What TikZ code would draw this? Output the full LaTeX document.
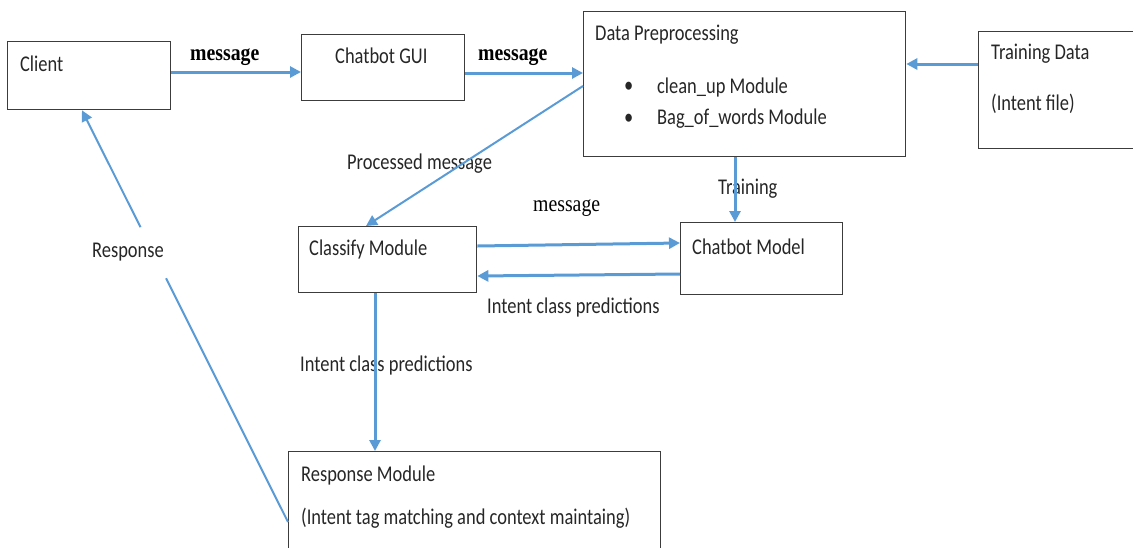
\documentclass[tikz,border=0pt]{standalone}
\usepackage{fontspec}
\setmainfont{Carlito}
\newfontfamily\serifmsg{Liberation Serif}
\usetikzlibrary{arrows.meta,calc}
\definecolor{arrowblue}{RGB}{91,155,213}
\definecolor{boxline}{RGB}{60,60,60}
\begin{document}
\begin{tikzpicture}[x=1pt,y=-1pt,
  box/.style={draw=boxline,line width=1.3pt,rectangle,inner sep=0pt,anchor=north west},
  txt/.style={anchor=west,inner sep=0pt,xscale=0.82,transform shape,font=\fontsize{22.5}{26}\selectfont,text=black!85},
  msgb/.style={anchor=west,inner sep=0pt,xscale=0.86,transform shape,font=\serifmsg\bfseries\fontsize{23}{26}\selectfont},
  msgr/.style={anchor=west,inner sep=0pt,xscale=0.86,transform shape,font=\serifmsg\fontsize{23}{26}\selectfont},
  thick arrow/.style={draw=arrowblue,line width=3pt,-{Triangle[length=11pt,width=11pt]}},
  thin arrow/.style={draw=arrowblue,line width=2pt,-{Triangle[length=11pt,width=11pt]}},
  thin line/.style={draw=arrowblue,line width=2pt}]
\useasboundingbox (0,0) rectangle (1133,547);
% boxes
\node[box,minimum width=163pt,minimum height=68pt] (client) at (7,41) {};
\node[box,minimum width=163pt,minimum height=66pt] (gui) at (301,34) {};
\node[box,minimum width=322pt,minimum height=145pt] (prep) at (583,11) {};
\node[box,minimum width=170pt,minimum height=117pt] (train) at (978,31) {};
\node[box,minimum width=178pt,minimum height=66pt] (classify) at (298,226) {};
\node[box,minimum width=162pt,minimum height=72pt] (model) at (680,222) {};
\node[box,minimum width=372pt,minimum height=120pt] (resp) at (288,451) {};
% box texts
\node[txt] (tclient) at (20,64) {Client};
\node[txt] (tgui) at (335,56) {Chatbot GUI};
\node[txt] (tprep) at (595,35) {Data Preprocessing};
\node[txt] (b1) at (624,87) {\textbullet};
\node[txt] (tclean) at (657,87) {clean\_up Module};
\node[txt] (b2) at (624,119) {\textbullet};
\node[txt] (tbag) at (657,119) {Bag\_of\_words Module};
\node[txt] (ttrain) at (991,54) {Training Data};
\node[txt] (tintent) at (991,104) {(Intent file)};
\node[txt] (tclassify) at (309,249) {Classify Module};
\node[txt] (tmodel) at (692,247) {Chatbot Model};
\node[txt] (tresp) at (301,475) {Response Module};
\node[txt] (tresp2) at (301,518) {(Intent tag matching and context maintaing)};
% connector labels
\node[msgb] (m1) at (190,57) {message};
\node[msgb] (m2) at (478,57) {message};
\node[msgr] (m3) at (533,208) {message};
\node[txt] (lproc) at (347,164) {Processed message};
\node[txt] (ltrain) at (718,189) {Training};
\node[txt] (lpred1) at (487,307) {Intent class predictions};
\node[txt] (lpred2) at (300,365) {Intent class predictions};
\node[txt] (lresp) at (92,252) {Response};
% connectors
\draw[thick arrow] (client.east |- 0,72) -- (gui.west |- 0,72);
\draw[thick arrow] (gui.east |- 0,73) -- (prep.west |- 0,73);
\draw[thick arrow] (train.west |- 0,64) -- (prep.east |- 0,64);
\draw[thick arrow] (prep.south -| 735,0) -- (model.north -| 735,0);
\draw[thin arrow] (prep.west |- 0,86) -- (classify.north -| 366,0);
\draw[thick arrow] (classify.east |- 0,246) -- (model.west |- 0,243);
\draw[thick arrow] (model.west |- 0,274) -- (classify.east |- 0,276);
\draw[thick arrow] (classify.south -| 375,0) -- (resp.north -| 375,0);
\coordinate (ra) at (resp.west |- 0,522);
\coordinate (rb) at (client.south -| 82,0);
\draw[thin line] (ra) -- ($(ra)!0.592!(rb)$);
\draw[thin arrow] ($(ra)!0.716!(rb)$) -- (rb);
\end{tikzpicture}
\end{document}
